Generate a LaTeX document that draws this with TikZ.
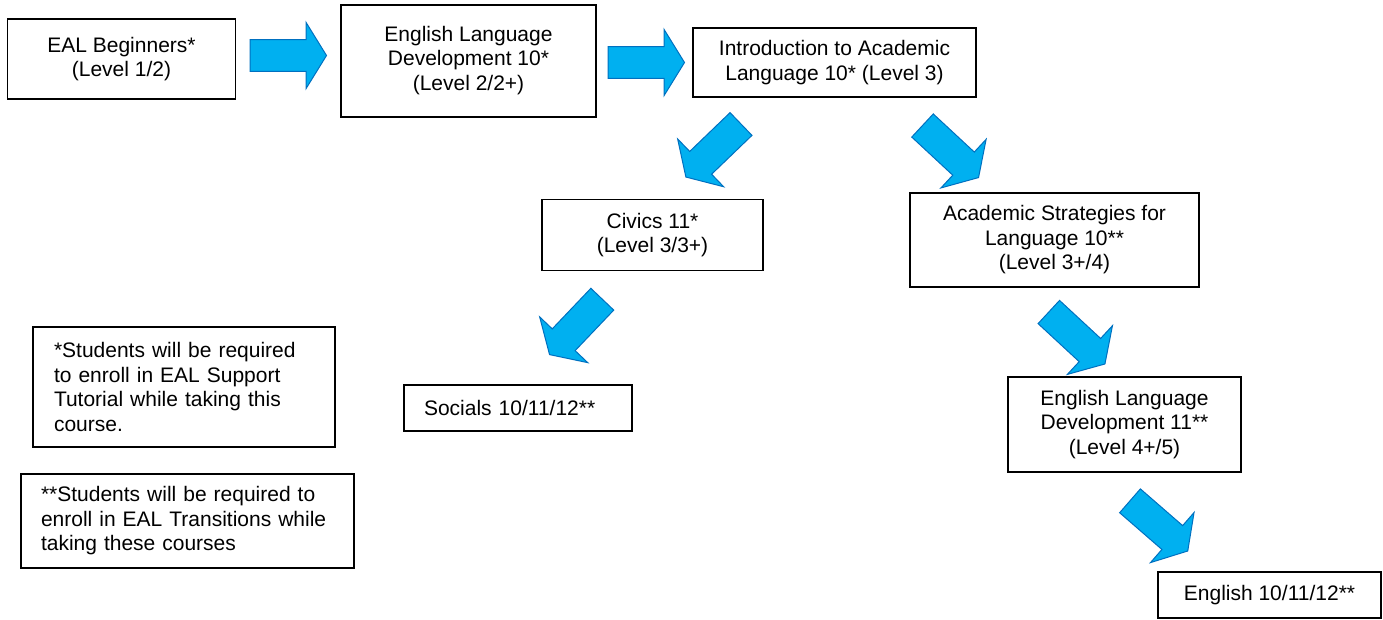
\documentclass[tikz,border=0pt]{standalone}
\usepackage{fontspec}
\setmainfont{Liberation Sans}
\definecolor{arrowfill}{RGB}{0,176,240}
\definecolor{arrowline}{RGB}{0,112,192}
\tikzset{
  box/.style={draw=black, line width=1.8pt, inner sep=0pt, align=center,
    font=\fontsize{21}{24.5}\selectfont},
  notebox/.style={box, align=left, inner ysep=0pt},
  barrow/.pic={\draw[fill=arrowfill, draw=arrowline, line width=1pt, line join=miter]
    (0,-15.8) -- (56,-15.8) -- (56,-33.2) -- (76.5,0) -- (56,33.2) -- (56,15.8) -- (0,15.8) -- cycle;}
}
\begin{document}
\begin{tikzpicture}[x=1pt,y=-1pt]
\useasboundingbox (0,0) rectangle (1383,619);
% course boxes
\node[box, minimum width=228, minimum height=80] (beg) at (121.5,59) {EAL Beginners*\\(Level 1/2)};
\node[box, minimum width=255, minimum height=112] (eldten) at (468.5,61) {\raisebox{3pt}{\begin{tabular}{@{}c@{}}English Language\\Development 10*\\(Level 2/2+)\end{tabular}}};
\node[box, minimum width=283, minimum height=69] (intro) at (834.5,62.5) {Introduction to Academic\\Language 10* (Level 3)};
\node[box, minimum width=221, minimum height=71] (civ) at (652.5,235) {Civics 11*\\(Level 3/3+)};
\node[box, minimum width=289, minimum height=94] (acad) at (1054.5,240) {Academic Strategies for\\Language 10**\\(Level 3+/4)};
\node[notebox, text width=188, inner xsep=20, minimum height=46] (soc) at (518,408) {Socials 10/11/12**};
\node[box, minimum width=233, minimum height=95] (eldeleven) at (1124.5,424.5) {English Language\\Development 11**\\(Level 4+/5)};
\node[box, minimum width=223, minimum height=46] (eng) at (1269.5,595) {English 10/11/12**};
% notes
\node[notebox, text width=260, inner xsep=21, minimum height=120] (noteone) at (184,387)
  {*Students will be required\\to enroll in EAL Support\\Tutorial while taking this\\course.};
\node[notebox, text width=293, inner xsep=20, minimum height=94] (notetwo) at (187.5,521)
  {**Students will be required to\\enroll in EAL Transitions while\\taking these courses};
% block arrows
\pic at (250,55.5) {barrow};
\pic at (608,62.5) {barrow};
\pic[rotate=-136.1] at (741,124) {barrow};
\pic[rotate=-42.9] at (922.5,125.5) {barrow};
\pic[rotate=-133.6] at (602.3,299.2) {barrow};
\pic[rotate=-42.8] at (1048.8,312) {barrow};
\pic[rotate=-41] at (1130,500.8) {barrow};
\end{tikzpicture}
\end{document}
